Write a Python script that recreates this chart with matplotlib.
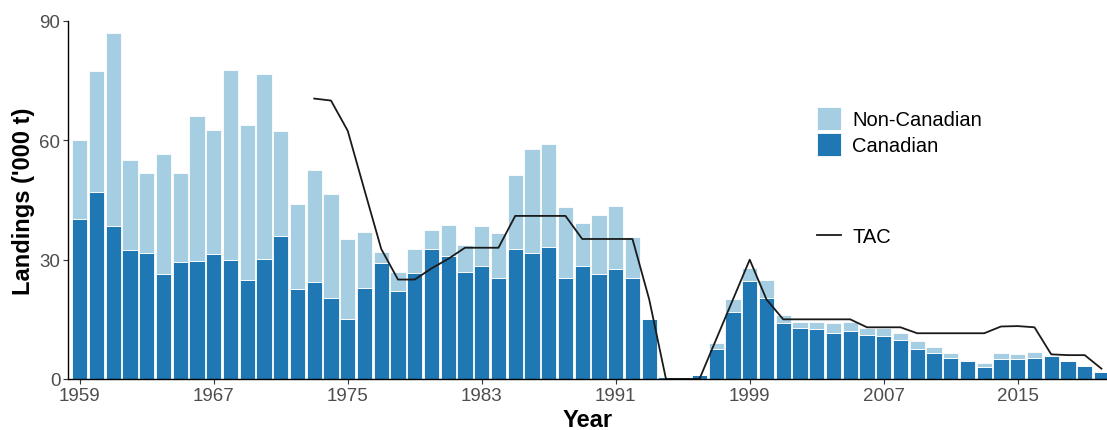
import numpy as np
import matplotlib.pyplot as plt

plt.rcParams['font.family'] = ['Liberation Sans', 'DejaVu Sans']

years = np.arange(1959, 2021)
canadian = [40.2, 46.9, 38.4, 32.4, 31.7, 26.3, 29.3, 29.7, 31.3, 29.8,
            25.0, 30.1, 35.9, 22.6, 24.5, 20.3, 15.1, 23.0, 29.2, 22.2,
            26.6, 32.8, 30.8, 26.8, 28.3, 25.5, 32.7, 31.8, 33.2, 25.5,
            28.5, 26.3, 27.7, 25.5, 15.1, 0.4, 0.4, 0.9, 7.5, 16.8,
            24.7, 20.3, 14.1, 12.9, 12.6, 11.6, 12.0, 11.1, 10.7, 9.8,
            7.5, 6.6, 5.4, 4.4, 2.9, 5.0, 5.0, 5.4, 5.9, 4.4,
            3.3, 1.7]
non_canadian = [19.9, 30.5, 48.5, 22.7, 20.1, 30.2, 22.5, 36.5, 31.4, 47.8,
                38.8, 46.7, 26.5, 21.5, 28.0, 26.2, 20.1, 13.9, 2.8, 4.8,
                6.2, 4.7, 8.0, 7.0, 10.1, 11.2, 18.6, 26.1, 26.0, 17.8,
                10.8, 14.9, 15.8, 10.1, 0.0, 0.0, 0.0, 0.0, 1.5, 3.2,
                3.1, 4.6, 2.1, 1.5, 1.8, 2.5, 2.4, 1.6, 2.0, 1.7,
                2.0, 1.4, 1.1, 0.3, 1.1, 1.5, 1.2, 1.5, 0.2, 0.0,
                0.0, 0.0]

tac_years = np.arange(1973, 2021)
tac = [70.5, 70.0, 62.4, 47.5, 32.7, 25.0, 25.0, 27.8, 30.2, 33.0,
       33.0, 33.0, 41.0, 41.0, 41.0, 41.0, 35.2, 35.2, 35.2, 35.2,
       20.0, 0.0, 0.0, 0.0, 10.0, 20.0, 30.0, 20.0, 15.0, 15.0,
       15.0, 15.0, 15.0, 13.0, 13.0, 13.0, 11.5, 11.5, 11.5, 11.5,
       11.5, 13.2, 13.3, 13.0, 6.2, 6.0, 6.0, 2.6]

fig = plt.figure(figsize=(11.07, 4.31), dpi=100)
ax = fig.add_axes([68 / 1107, 51 / 431, 1 - 68 / 1107, 358 / 431])

b1 = ax.bar(years, canadian, width=0.9, color='#1f78b4', edgecolor='white', linewidth=0.6, label='Canadian')
b2 = ax.bar(years, non_canadian, bottom=canadian, width=0.9, color='#a6cee3', edgecolor='white', linewidth=0.6,
            label='Non-Canadian')
ln, = ax.plot(tac_years, tac, color='#1a1a1a', linewidth=1.3, label='TAC')

ax.set_xlim(1958.3, 2020.33)
ax.set_ylim(0, 90)
ax.set_xticks(np.arange(1959, 2020, 8))
ax.set_yticks([0, 30, 60, 90])
ax.tick_params(labelsize=13.5, colors='#4d4d4d', length=3.5, width=0.8, pad=2)
ax.tick_params(axis='both', color='#333333')
for s in ['top', 'right']:
    ax.spines[s].set_visible(False)
for s in ['left', 'bottom']:
    ax.spines[s].set_linewidth(1.0)
ax.set_xlabel('Year', fontsize=17, fontweight='bold', labelpad=3)
ax.set_ylabel("Landings ('000 t)", fontsize=17, fontweight='bold', labelpad=3)

leg1 = ax.legend([b2, b1], ['Non-Canadian', 'Canadian'], loc='upper left', bbox_to_anchor=(817 / 1107, 1 - 108 / 431),
                 bbox_transform=fig.transFigure, frameon=False, fontsize=14.5, handlelength=1.2, handleheight=1.4,
                 labelspacing=0.12, handletextpad=0.55, borderpad=0, borderaxespad=0)
ax.add_artist(leg1)
ax.legend([ln], ['TAC'], loc='upper left', bbox_to_anchor=(817 / 1107, 1 - 228 / 431),
          bbox_transform=fig.transFigure, frameon=False, fontsize=14.5, handlelength=1.2, handletextpad=0.55,
          borderpad=0, borderaxespad=0)

plt.savefig('out.png', dpi=100)
